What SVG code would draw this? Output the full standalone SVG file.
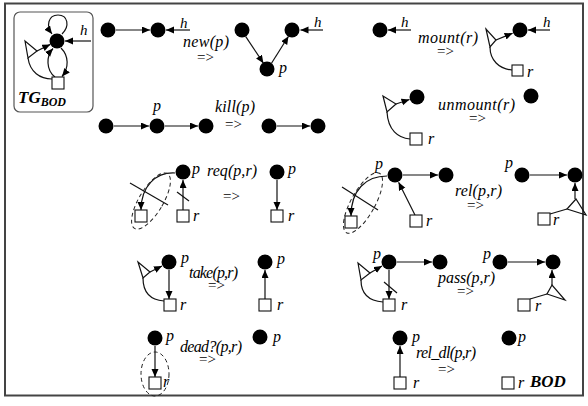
<svg xmlns="http://www.w3.org/2000/svg" width="588" height="406" viewBox="0 0 588 406">
  <style>
    .n { fill: #000; }
    .e { fill: none; stroke: #111; stroke-width: 1.2; marker-end: url(#ah); }
    .l { fill: none; stroke: #111; stroke-width: 1.2; }
    .sq { fill: #fff; stroke: #111; stroke-width: 1.1; }
    .dash { fill: none; stroke: #222; stroke-width: 1; stroke-dasharray: 4 3; }
    .t { font-family: "Liberation Serif", "Times New Roman", serif; font-style: italic; font-size: 16px; fill: #000; }
    .v { font-family: "Liberation Serif", "Times New Roman", serif; font-style: italic; font-size: 16px; fill: #000; }
    .h { font-family: "Liberation Serif", "Times New Roman", serif; font-style: italic; font-size: 15px; fill: #000; }
    .to { font-family: "Liberation Serif", "Times New Roman", serif; font-size: 15px; fill: #000; }
    .b { font-family: "Liberation Serif", "Times New Roman", serif; font-style: italic; font-weight: bold; fill: #000; }
  </style>
  <defs>
    <marker id="ah" markerUnits="userSpaceOnUse" markerWidth="9" markerHeight="8" refX="8" refY="3.5" orient="auto">
      <path d="M0,0 L8,3.5 L0,7 z" fill="#000"/>
    </marker>
  </defs>

  <!-- frame -->
  <rect x="5" y="3.5" width="578" height="392" fill="#fff" stroke="#444" stroke-width="2"/>

  <!-- type graph -->
  <g id="tg">
    <rect x="14" y="12" width="79" height="100" rx="6" fill="none" stroke="#555" stroke-width="1.2"/>
    <path class="e" d="M62,34 C70,26 68,15 58,15 C48,15 46,26 52,34"/>
    <path class="e" d="M91,41 H65"/>
    <text class="h" x="80" y="35">h</text>
    <polygon class="l" points="25,41 28,58 37,51"/>
    <path class="e" d="M37,51 L50.3,44.4"/>
    <path class="l" d="M28,58 C30,72 40,79 52,79"/>
    <path class="e" d="M55,77 C46,70 46,56 53,48.5"/>
    <path class="e" d="M61,48 C69,56 69,68 62,76.5"/>
    <rect class="sq" x="52" y="77" width="12" height="12"/>
    <circle class="n" cx="57" cy="41" r="7.5"/>
    <text class="b" x="18" y="103" font-size="17">TG<tspan font-size="12" dy="3">BOD</tspan></text>
  </g>

  <!-- connectors -->
  <g id="connectors">
    <!-- new(p) -->
    <path class="e" d="M116,30 H150"/>
    <path class="e" d="M190,30 H166"/>
    <path class="e" d="M245.6,36.3 L263.4,63.2"/>
    <path class="e" d="M271.5,63.2 L288.5,36.3"/>
    <path class="e" d="M323,30 H300.5"/>
    <!-- mount(r) -->
    <path class="e" d="M411,30 H388"/>
    <polygon class="l" points="486,29 490,47 496,40"/>
    <path class="e" d="M496,40 L512.6,33.2"/>
    <path class="l" d="M490,47 C490,60 499,69 512,70"/>
    <path class="e" d="M550,30 H528"/>
    <!-- kill(p) -->
    <path class="e" d="M114,126 H149"/>
    <path class="e" d="M165,126 H198"/>
    <path class="e" d="M277,126 H310"/>
    <!-- unmount(r) -->
    <polygon class="l" points="383,96 387,112 396,104"/>
    <path class="e" d="M396,104 L409.5,99.5"/>
    <path class="l" d="M387,112 C388,130 398,138 410,139"/>
    <!-- req(p,r) -->
    <path class="e" d="M175,173 C156,172 141,186 141,210"/>
    <path class="e" d="M183,210 V180"/>
    <path class="l" d="M130,183 L168,205"/>
    <path class="l" d="M177,192 L189,201"/>
    <ellipse class="dash" cx="151" cy="201" rx="12" ry="32" transform="rotate(31 151 201)"/>
    <path class="e" d="M277,180 V210"/>
    <!-- rel(p,r) -->
    <path class="e" d="M403,175 H438"/>
    <path class="e" d="M387,176 C366,176 351,190 351,216"/>
    <path class="e" d="M415,215 L398.6,182.2"/>
    <path class="l" d="M342,187 L378,210"/>
    <ellipse class="dash" cx="363" cy="203" rx="12" ry="34" transform="rotate(29 363 203)"/>
    <path class="e" d="M530,175 H567"/>
    <polygon class="l" points="576,199 567,209 586,215"/>
    <path class="e" d="M575,199 V183"/>
    <path class="l" d="M550,214 L567,209"/>
    <!-- take(p,r) -->
    <polygon class="l" points="138,262 143,278 150,272"/>
    <path class="e" d="M150,272 L162,266"/>
    <path class="l" d="M143,278 C143,293 151,300 164,301"/>
    <path class="e" d="M169,270 V299"/>
    <path class="e" d="M265,299 V270"/>
    <!-- pass(p,r) -->
    <path class="e" d="M397,262 H432"/>
    <polygon class="l" points="358,263 361,280 370,273"/>
    <path class="e" d="M370,273 L382,266"/>
    <path class="l" d="M361,280 C361,295 370,301 383,302"/>
    <path class="e" d="M389,270 V299"/>
    <path class="l" d="M384,282 L397,293"/>
    <path class="e" d="M508,262 H545"/>
    <polygon class="l" points="552,285 547,294 565,300"/>
    <path class="e" d="M552,285 V270"/>
    <path class="l" d="M530,299 L547,294"/>
    <!-- dead?(p,r) -->
    <path class="e" d="M155,346 V377"/>
    <ellipse class="dash" cx="155" cy="374" rx="14" ry="22"/>
    <!-- rel_dl(p,r) -->
    <path class="e" d="M400,377 V346"/>
  </g>

  <!-- new(p) -->
  <g id="new">
    <circle class="n" cx="108" cy="30" r="7.5"/>
    <circle class="n" cx="158" cy="30" r="7.5"/>
    <text class="h" x="180" y="28">h</text>
    <text class="t" x="183" y="47" textLength="46">new(p)</text>
    <text class="to" x="197" y="62">=&gt;</text>
    <circle class="n" cx="242" cy="30" r="7.5"/>
    <circle class="n" cx="292" cy="30" r="7.5"/>
    <circle class="n" cx="267" cy="69" r="7.5"/>
    <text class="h" x="314" y="27">h</text>
    <text class="v" x="279" y="73">p</text>
  </g>

  <!-- mount(r) -->
  <g id="mount">
    <circle class="n" cx="380" cy="30" r="7.5"/>
    <text class="h" x="401" y="27">h</text>
    <text class="t" x="418" y="43" textLength="60">mount(r)</text>
    <text class="to" x="437" y="56">=&gt;</text>
    <circle class="n" cx="520" cy="30" r="7.5"/>
    <text class="h" x="543" y="27">h</text>
    <rect class="sq" x="512" y="65" width="11" height="11"/>
    <text class="v" x="527" y="77">r</text>
  </g>

  <!-- kill(p) -->
  <g id="kill">
    <circle class="n" cx="106" cy="126" r="7.5"/>
    <circle class="n" cx="157" cy="126" r="7.5"/>
    <circle class="n" cx="206" cy="126" r="7.5"/>
    <text class="v" x="153" y="111">p</text>
    <text class="t" x="215" y="112" textLength="40">kill(p)</text>
    <text class="to" x="225" y="129">=&gt;</text>
    <circle class="n" cx="269" cy="126" r="7.5"/>
    <circle class="n" cx="318" cy="126" r="7.5"/>
  </g>

  <!-- unmount(r) -->
  <g id="unmount">
    <circle class="n" cx="417" cy="97" r="7.5"/>
    <rect class="sq" x="410" y="133" width="12" height="12"/>
    <text class="v" x="428" y="144">r</text>
    <text class="t" x="438" y="110" textLength="77">unmount(r)</text>
    <text class="to" x="469" y="123">=&gt;</text>
    <circle class="n" cx="531" cy="96" r="7.5"/>
  </g>

  <!-- req(p,r) -->
  <g id="req">
    <circle class="n" cx="183" cy="172" r="7.5"/>
    <text class="v" x="192" y="174">p</text>
    <rect class="sq" x="135" y="210" width="12" height="12"/>
    <rect class="sq" x="177" y="210" width="12" height="12"/>
    <text class="v" x="193" y="221">r</text>
    <text class="t" x="207" y="176" textLength="50">req(p,r)</text>
    <text class="to" x="223" y="201">=&gt;</text>
    <circle class="n" cx="277" cy="172" r="7.5"/>
    <text class="v" x="288" y="174">p</text>
    <rect class="sq" x="271" y="210" width="12" height="12"/>
    <text class="v" x="288" y="221">r</text>
  </g>

  <!-- rel(p,r) -->
  <g id="rel">
    <circle class="n" cx="395" cy="175" r="7.5"/>
    <circle class="n" cx="446" cy="175" r="7.5"/>
    <text class="v" x="375" y="169">p</text>
    <rect class="sq" x="345" y="216" width="12" height="12"/>
    <rect class="sq" x="410" y="215" width="12" height="12"/>
    <text class="v" x="426" y="226">r</text>
    <text class="t" x="455" y="196" textLength="47">rel(p,r)</text>
    <text class="to" x="467" y="210">=&gt;</text>
    <text class="v" x="505" y="168">p</text>
    <circle class="n" cx="522" cy="175" r="7.5"/>
    <circle class="n" cx="575" cy="175" r="7.5"/>
    <rect class="sq" x="538" y="213" width="12" height="12"/>
    <text class="v" x="553" y="225">r</text>
  </g>

  <!-- take(p,r) -->
  <g id="take">
    <circle class="n" cx="169" cy="262" r="7.5"/>
    <text class="v" x="181" y="263">p</text>
    <rect class="sq" x="164" y="299" width="12" height="12"/>
    <text class="v" x="180" y="310">r</text>
    <text class="t" x="189" y="278" textLength="49">take(p,r)</text>
    <text class="to" x="208" y="290">=&gt;</text>
    <circle class="n" cx="265" cy="262" r="7.5"/>
    <text class="v" x="277" y="264">p</text>
    <rect class="sq" x="259" y="299" width="12" height="12"/>
    <text class="v" x="277" y="310">r</text>
  </g>

  <!-- pass(p,r) -->
  <g id="pass">
    <text class="v" x="373" y="259">p</text>
    <circle class="n" cx="389" cy="262" r="7.5"/>
    <circle class="n" cx="440" cy="262" r="7.5"/>
    <rect class="sq" x="383" y="299" width="12" height="12"/>
    <text class="v" x="401" y="310">r</text>
    <text class="t" x="438" y="283" textLength="57">pass(p,r)</text>
    <text class="to" x="457" y="296">=&gt;</text>
    <text class="v" x="483" y="259">p</text>
    <circle class="n" cx="500" cy="262" r="7.5"/>
    <circle class="n" cx="553" cy="262" r="7.5"/>
    <rect class="sq" x="518" y="299" width="12" height="12"/>
    <text class="v" x="535" y="311">r</text>
  </g>

  <!-- dead?(p,r) -->
  <g id="dead">
    <circle class="n" cx="155" cy="338" r="7.5"/>
    <text class="v" x="166" y="341">p</text>
    <rect class="sq" x="149" y="377" width="12" height="12"/>
    <text class="v" x="163" y="387">r</text>
    <text class="t" x="180" y="352" textLength="62">dead?(p,r)</text>
    <text class="to" x="199" y="364">=&gt;</text>
    <circle class="n" cx="260" cy="337" r="7.5"/>
    <text class="v" x="273" y="342">p</text>
  </g>

  <!-- rel_dl(p,r) -->
  <g id="rel_dl">
    <circle class="n" cx="400" cy="338" r="7.5"/>
    <text class="v" x="412" y="342">p</text>
    <rect class="sq" x="394" y="377" width="12" height="12"/>
    <text class="v" x="413" y="388">r</text>
    <text class="t" x="416" y="358" textLength="60">rel_dl(p,r)</text>
    <text class="to" x="438" y="374">=&gt;</text>
    <circle class="n" cx="509" cy="338" r="7.5"/>
    <text class="v" x="518" y="342">p</text>
    <rect class="sq" x="502" y="377" width="12" height="12"/>
    <text class="v" x="518" y="388">r</text>
    <text class="b" x="530" y="387" font-size="17">BOD</text>
  </g>
</svg>
